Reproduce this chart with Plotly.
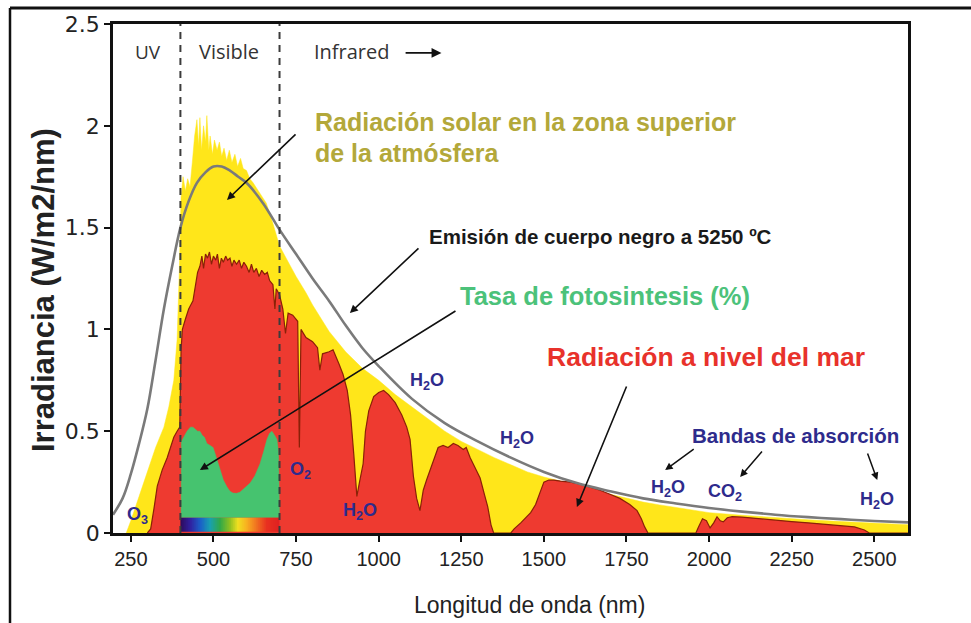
import plotly.graph_objects as go

# ---------------- data ----------------
# Black-body emission curve (W/m2/nm) vs wavelength (nm)
bb_wl = [196, 225, 250, 275, 300, 325, 350, 375, 400, 425, 450, 475, 500, 525, 550, 575,
         600, 650, 700, 750, 800, 850, 900, 950, 1000, 1100, 1200, 1300, 1400, 1500,
         1600, 1700, 1800, 1900, 2000, 2100, 2200, 2300, 2400, 2500, 2602]
bb_irr = [0.09, 0.17, 0.29, 0.44, 0.61, 0.85, 1.10, 1.31, 1.50, 1.63, 1.72, 1.77, 1.80, 1.80,
          1.78, 1.75, 1.72, 1.62, 1.49, 1.37, 1.25, 1.14, 1.02, 0.91, 0.82, 0.66, 0.54,
          0.45, 0.37, 0.30, 0.245, 0.205, 0.17, 0.145, 0.123, 0.105, 0.09, 0.078, 0.068,
          0.059, 0.052]

# Solar radiation at the top of the atmosphere
toa_wl = [236, 250, 275, 300, 325, 350, 365, 380, 390, 397, 402, 408, 415, 422, 429, 436,
          443, 450, 455, 459, 464, 470, 476, 480, 486, 490, 497, 503, 511, 518, 525, 532,
          540, 548, 556, 565, 573, 582, 590, 600, 610, 620, 640, 660, 680, 700, 720, 750,
          780, 800, 850, 900, 950, 1000, 1050, 1100, 1150, 1200, 1250, 1300, 1350, 1400,
          1450, 1500, 1550, 1600, 1650, 1700, 1750, 1800, 1850, 1900, 1950, 2000, 2100,
          2200, 2300, 2400, 2500, 2602]
toa_irr = [0.0, 0.06, 0.18, 0.30, 0.42, 0.52, 0.62, 0.75, 0.95, 1.30, 1.65, 1.75, 1.68, 1.74,
           1.70, 1.82, 1.95, 2.03, 1.90, 2.04, 1.88, 2.00, 1.92, 2.05, 1.88, 1.95, 1.86,
           1.93, 1.88, 1.92, 1.85, 1.89, 1.83, 1.88, 1.82, 1.86, 1.80, 1.84, 1.79, 1.78,
           1.74, 1.72, 1.67, 1.62, 1.52, 1.41, 1.35, 1.26, 1.18, 1.12, 0.99, 0.89, 0.81,
           0.75, 0.68, 0.62, 0.56, 0.50, 0.45, 0.41, 0.37, 0.335, 0.30, 0.275, 0.255,
           0.235, 0.21, 0.19, 0.17, 0.152, 0.138, 0.125, 0.112, 0.10, 0.087, 0.075, 0.065,
           0.056, 0.048, 0.041]

# Solar radiation at sea level
sea_wl = [300, 310, 320, 330, 345, 360, 370, 380, 390, 398, 402, 406, 415, 425, 438, 445,
          452, 459, 465, 470, 476, 482, 488, 494, 500, 507, 512, 518, 524, 530, 537, 543,
          550, 556, 562, 570, 578, 585, 592, 600, 608, 615, 622, 630, 638, 646, 655, 663,
          670, 680, 686, 690, 700, 710, 718, 726, 740, 755, 760, 765, 780, 800, 815, 822,
          830, 850, 862, 880, 892, 905, 915, 925, 934, 942, 953, 960, 970, 985, 1000, 1015,
          1030, 1050, 1070, 1085, 1095, 1105, 1115, 1125, 1135, 1145, 1156, 1170, 1180,
          1195, 1210, 1226, 1240, 1256, 1265, 1277, 1295, 1307, 1320, 1330, 1340, 1348,
          1400, 1410, 1430, 1449, 1460, 1475, 1490, 1500, 1515, 1530, 1550, 1580, 1610,
          1640, 1670, 1700, 1730, 1760, 1782, 1795, 1805, 1815, 1960, 1968, 1980, 1992,
          2003, 2014, 2024, 2034, 2043, 2055, 2070, 2100, 2150, 2200, 2250, 2300, 2350,
          2400, 2440, 2470, 2485, 2602]
sea_irr = [0.0, 0.02, 0.12, 0.23, 0.31, 0.37, 0.42, 0.47, 0.50, 0.52, 0.90, 1.00, 1.05, 1.10,
           1.14, 1.22, 1.28, 1.31, 1.36, 1.30, 1.37, 1.35, 1.38, 1.32, 1.36, 1.34, 1.37,
           1.30, 1.35, 1.33, 1.36, 1.34, 1.35, 1.31, 1.34, 1.32, 1.34, 1.30, 1.33, 1.31,
           1.28, 1.32, 1.28, 1.30, 1.26, 1.29, 1.27, 1.28, 1.24, 1.22, 1.10, 1.20, 1.17,
           1.10, 0.98, 1.08, 1.07, 1.04, 0.42, 1.00, 0.96, 0.94, 0.91, 0.80, 0.88, 0.89,
           0.90, 0.83, 0.78, 0.70, 0.58, 0.38, 0.18, 0.25, 0.34, 0.50, 0.60, 0.67, 0.69,
           0.70, 0.68, 0.64, 0.58, 0.52, 0.46, 0.28, 0.17, 0.11, 0.21, 0.26, 0.31, 0.38,
           0.42, 0.43, 0.42, 0.44, 0.43, 0.41, 0.42, 0.37, 0.31, 0.27, 0.19, 0.13, 0.04,
           0.0, 0.0, 0.02, 0.05, 0.08, 0.10, 0.14, 0.21, 0.25, 0.26, 0.26, 0.255, 0.25,
           0.24, 0.225, 0.21, 0.19, 0.17, 0.14, 0.11, 0.07, 0.03, 0.0, 0.0, 0.03, 0.07,
           0.06, 0.025, 0.05, 0.08, 0.06, 0.055, 0.075, 0.08, 0.078, 0.07, 0.063, 0.056,
           0.05, 0.043, 0.037, 0.03, 0.015, 0.0, 0.0]

# Photosynthesis rate (plotted on the irradiance scale above the colour bar)
photo_wl = [402, 403, 410, 420, 430, 438, 445, 452, 459, 466, 473, 480, 490, 499, 505, 512,
            520, 530, 541, 550, 559, 570, 580, 595, 611, 625, 641, 652, 662, 670, 677, 685,
            692, 697, 700]
photo_val = [0.075, 0.45, 0.47, 0.50, 0.52, 0.52, 0.51, 0.50, 0.50, 0.48, 0.47, 0.44, 0.43,
             0.42, 0.39, 0.35, 0.31, 0.26, 0.226, 0.205, 0.196, 0.195, 0.20, 0.22, 0.245,
             0.28, 0.34, 0.40, 0.46, 0.49, 0.50, 0.48, 0.46, 0.40, 0.075]
photo_base = 0.075

# Visible band limits and colour bar
vis_min, vis_max = 400, 700
spectrum_colors = [[0.0, "#2d0a5a"], [0.10, "#3020a0"], [0.20, "#1a5fc8"],
                   [0.30, "#18a0b0"], [0.40, "#30a848"], [0.50, "#90c020"],
                   [0.58, "#f0e020"], [0.67, "#f8b020"], [0.77, "#f07020"],
                   [0.87, "#e83020"], [1.0, "#e02020"]]

x_ticks = [250, 500, 750, 1000, 1250, 1500, 1750, 2000, 2250, 2500]
y_ticks = [0, 0.5, 1, 1.5, 2, 2.5]
y_tick_text = ["0", "0.5", "1", "1.5", "2", "2.5"]

X_RANGE = [196, 2602]
Y_RANGE = [0, 2.5]

YELLOW = "#FFE61A"
RED = "#EE3A30"
GREEN = "#46C36F"
NAVY = "#2E2B8C"

fig = go.Figure()

# top-of-atmosphere spectrum
fig.add_trace(go.Scatter(x=toa_wl, y=toa_irr, mode="lines", fill="tozeroy",
                         fillcolor=YELLOW, line=dict(color=YELLOW, width=0.5),
                         hoverinfo="skip"))
# sea-level spectrum
fig.add_trace(go.Scatter(x=sea_wl, y=sea_irr, mode="lines", fill="tozeroy",
                         fillcolor=RED, line=dict(color="#8a2008", width=1.2),
                         hoverinfo="skip"))
# photosynthesis rate
fig.add_trace(go.Scatter(x=[photo_wl[0], photo_wl[-1]], y=[photo_base, photo_base],
                         mode="lines", line=dict(width=0, color=GREEN), hoverinfo="skip"))
fig.add_trace(go.Scatter(x=photo_wl, y=photo_val, mode="lines", fill="tonexty",
                         fillcolor=GREEN, line=dict(color=GREEN, width=0.5),
                         hoverinfo="skip"))
# black body curve
fig.add_trace(go.Scatter(x=bb_wl, y=bb_irr, mode="lines", line_shape="spline",
                         line=dict(color="#7a7a7a", width=2.6), hoverinfo="skip"))
# visible colour bar, on an overlaid copy of the axes so it sits above the fills
bar_edges = list(range(vis_min, vis_max + 1, 2))
bar_centers = [(a + b) / 2 for a, b in zip(bar_edges[:-1], bar_edges[1:])]
fig.add_trace(go.Heatmap(x=bar_edges, y=[0.004, photo_base], z=[bar_centers],
                         colorscale=spectrum_colors, zmin=vis_min, zmax=vis_max,
                         showscale=False, hoverinfo="skip", xaxis="x2", yaxis="y2"))

# UV / visible / infrared separators
for xv in (vis_min, vis_max):
    fig.add_shape(type="line", xref="x", yref="y", x0=xv, x1=xv, y0=0, y1=Y_RANGE[1],
                  line=dict(color="#3c3c3c", width=2, dash="7px,6px"), layer="above")

# outer frame lines
L, R, T, B = 113, 63, 24, 90
W, H = 971, 623
pw, ph = W - L - R, H - T - B


def px(xp):
    return (xp - L) / pw


def py(yp):
    return (H - B - yp) / ph


fig.add_shape(type="line", xref="paper", yref="paper", x0=px(10), x1=px(971),
              y0=py(8), y1=py(8), line=dict(color="#111", width=3))
fig.add_shape(type="line", xref="paper", yref="paper", x0=px(10), x1=px(10),
              y0=py(8), y1=py(623), line=dict(color="#111", width=2.5))

ann = []
BOLD = "Liberation Sans, Arial, sans-serif"


def label(x, y, text, size, color, xanchor="center", family=BOLD):
    ann.append(dict(x=x, y=y, xref="x", yref="y", text=text, showarrow=False,
                    xanchor=xanchor, yanchor="middle",
                    font=dict(size=size, color=color, family=family)))


def arrow(x_tail, y_tail, x_head, y_head, size=1.0, width=1.6, color="#111"):
    ann.append(dict(x=x_head, y=y_head, ax=x_tail, ay=y_tail, xref="x", yref="y",
                    axref="x", ayref="y", text="", showarrow=True, arrowhead=2,
                    arrowsize=size, arrowwidth=width, arrowcolor=color))


LIGHT = "Open Sans, sans-serif"
label(302, 2.363, "UV", 19, "#333", family=LIGHT)
label(547, 2.363, "Visible", 20, "#333", family=LIGHT)
label(798, 2.363, "Infrared", 20, "#333", xanchor="left", family=LIGHT)
arrow(1077, 2.358, 1190, 2.358, size=1.1, width=1.8)

label(801, 2.02, "<b>Radiación solar en la zona superior</b>", 25, "#B3A83A", xanchor="left")
label(801, 1.866, "<b>de la atmósfera</b>", 25, "#B3A83A", xanchor="left")
arrow(753, 1.965, 541, 1.636)

label(1146, 1.454, "<b>Emisión de cuerpo negro a 5250 ºC</b>", 20.5, "#1a1a1a", xanchor="left")
arrow(1125, 1.405, 913, 1.08)

label(1240, 1.164, "<b>Tasa de fotosintesis (%)</b>", 25.5, "#4CC27A", xanchor="left")
arrow(1237, 1.095, 459, 0.309)

label(1504, 0.864, "<b>Radiación a nivel del mar</b>", 26.5, "#E8322B", xanchor="left")
arrow(1752, 0.727, 1600, 0.128)

label(2263, 0.481, "<b>Bandas de absorción</b>", 20.5, NAVY)
arrow(1958, 0.417, 1867, 0.309, width=1.5)
arrow(2164, 0.408, 2094, 0.275, width=1.5)
arrow(2478, 0.398, 2509, 0.26, width=1.5)

for xw, yv, txt in [(1146, 0.742, "H<sub>2</sub>O"), (1419, 0.457, "H<sub>2</sub>O"),
                    (1876, 0.221, "H<sub>2</sub>O"), (2509, 0.162, "H<sub>2</sub>O"),
                    (944, 0.108, "H<sub>2</sub>O"), (762, 0.305, "O<sub>2</sub>"),
                    (269, 0.088, "O<sub>3</sub>"), (2048, 0.201, "CO<sub>2</sub>")]:
    label(xw, yv, "<b>" + txt + "</b>", 18, NAVY)

# axis titles
ann.append(dict(x=px(43), y=py(290), xref="paper", yref="paper", showarrow=False,
                xanchor="center", yanchor="middle",
                text="<b>Irradiancia (W/m2/nm)</b>", textangle=-90,
                font=dict(size=31, color="#222", family=BOLD)))
ann.append(dict(x=px(529), y=py(605), xref="paper", yref="paper", showarrow=False,
                xanchor="center", yanchor="middle",
                text="Longitud de onda (nm)",
                font=dict(size=23, color="#222", family=BOLD)))

fig.update_layout(
    width=W, height=H, margin=dict(l=L, r=R, t=T, b=B),
    paper_bgcolor="white", plot_bgcolor="white", showlegend=False,
    annotations=ann,
    xaxis=dict(range=X_RANGE, tickvals=x_ticks, showgrid=False, zeroline=False,
               showline=True, linecolor="#111", linewidth=2.5, mirror=True,
               ticks="outside", ticklen=6, tickwidth=2, tickcolor="#111",
               tickfont=dict(size=20, color="#222", family=BOLD)),
    yaxis=dict(range=Y_RANGE, tickvals=y_ticks, ticktext=y_tick_text, showgrid=False,
               zeroline=False, showline=True, linecolor="#111", linewidth=2.5, mirror=True,
               ticks="outside", ticklen=6, tickwidth=2, tickcolor="#111",
               tickfont=dict(size=22, color="#222", family="DejaVu Sans, sans-serif")),
    xaxis2=dict(overlaying="x", range=X_RANGE, visible=False),
    yaxis2=dict(overlaying="y", range=Y_RANGE, visible=False),
)

fig.write_html("out.html")
